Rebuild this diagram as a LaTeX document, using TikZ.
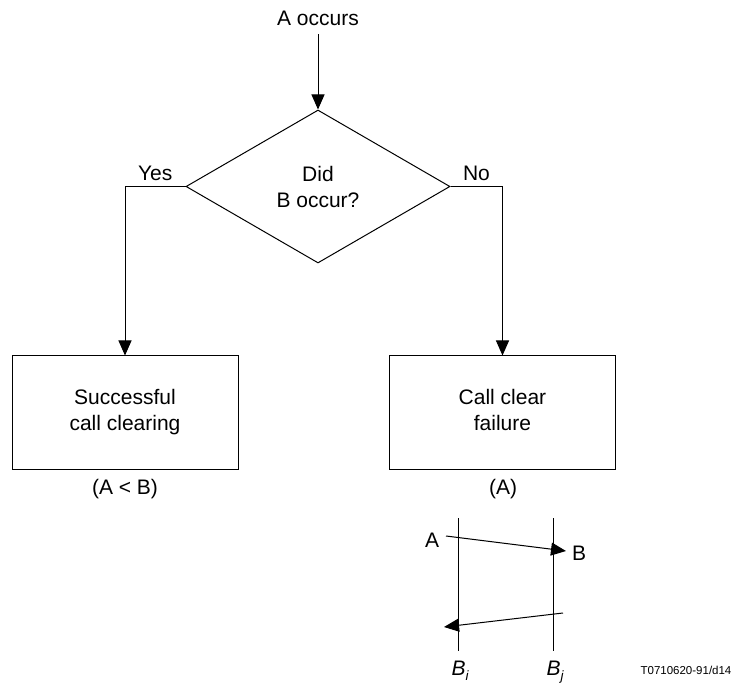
\documentclass[tikz,border=0pt]{standalone}
\usepackage{fontspec}
\setmainfont{Liberation Sans}
\usetikzlibrary{arrows.meta,shapes.geometric}

\newcommand{\mainsize}{\fontsize{21}{26}\selectfont}
\newcommand{\lifelabel}[2]{\textit{#1}\raisebox{-5pt}{\fontsize{13.5}{13.5}\selectfont\itshape #2}}

\tikzset{
  conn/.style={line width=1pt},
  flow/.style={conn, -{Triangle[length=15pt,width=13pt]}},
  txt/.style={font=\mainsize, inner sep=0pt},
  branchlabel/.style={above, font=\mainsize, inner sep=5pt},
  procbox/.style={draw, rectangle, line width=1pt, minimum width=226pt,
    minimum height=113pt, align=center, font=\mainsize},
  decision/.style={draw, diamond, line width=1pt, minimum width=264pt,
    minimum height=153pt, inner sep=0pt, align=center, font=\mainsize},
}

\begin{document}
\begin{tikzpicture}[x=1pt,y=-1pt]
\useasboundingbox (0,0) rectangle (755,684);

% flow chart
\node[txt, anchor=base, inner sep=8pt] (aocc) at (318,26) {A occurs};
\node[decision] (dia) at (318,186.5) {Did\\B occur?};
\node[procbox] (succ) at (125,412.5) {Successful\\call clearing};
\node[procbox] (fail) at (502.5,412.5) {Call clear\\failure\vphantom{g}};
\node[txt] (succres) at (125,489) {(A < B)};
\node[txt] (failres) at (503,489) {(A)};

\draw[flow] (aocc.south) -- (dia.north);
\draw[flow] (dia.west) -- node[branchlabel]{Yes} (dia.west -| succ.north) -- (succ.north);
\draw[flow] (dia.east) -- node[branchlabel]{No} (dia.east -| fail.north) -- (fail.north);

% time sequence between B_i and B_j
\coordinate (bitop) at (458,518);
\coordinate (bibot) at (458,651);
\coordinate (bjtop) at (553,518);
\coordinate (bjbot) at (553,651);
\draw[conn] (bitop) -- (bibot);
\draw[conn] (bjtop) -- (bjbot);
\node[txt, anchor=base] (bilbl) at (460,675) {\lifelabel{B}{i}};
\node[txt, anchor=base] (bjlbl) at (555,675) {\lifelabel{B}{j}};

\coordinate (msgastart) at (446,536);
\coordinate (msgaend) at (566,551);
\node[txt] (alab) at (432,540) {A};
\node[txt] (blab) at (579,553) {B};
\draw[flow] (msgastart) -- (msgaend);

\coordinate (msgbstart) at (563,613);
\coordinate (msgbend) at (444,627);
\draw[flow] (msgbstart) -- (msgbend);

\node[font=\fontsize{11.5}{13}\selectfont, inner sep=0pt] (figref) at (686,670) {T0710620-91/d14};
\end{tikzpicture}
\end{document}
